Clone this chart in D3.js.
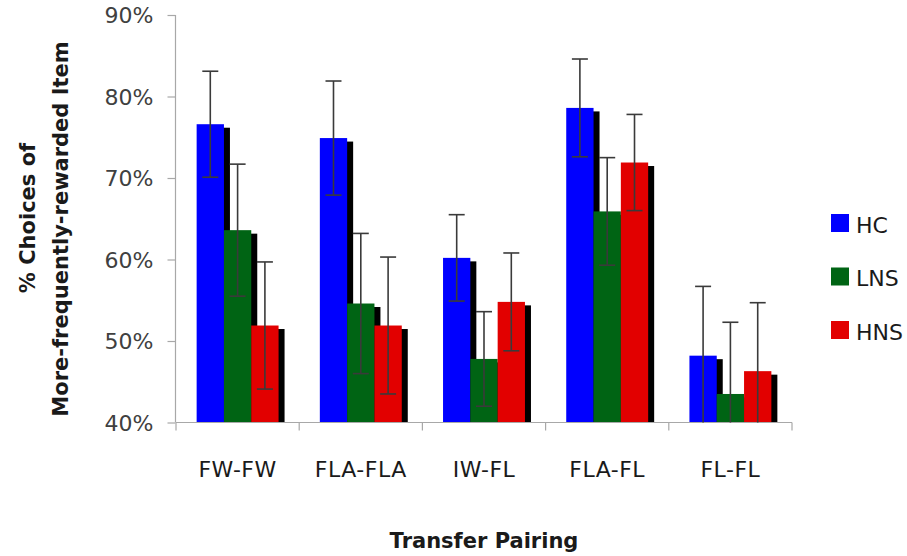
<!DOCTYPE html>
<html>
<head>
<meta charset="utf-8">
<script src="https://cdn.jsdelivr.net/npm/d3@7"></script>
<style>
  html, body { margin: 0; padding: 0; background: #fff; }
  svg { display: block; }
  text { font-family: "DejaVu Sans", Verdana, sans-serif; }
</style>
</head>
<body>
<svg id="chart" width="907" height="556"></svg>
<script>
// ---- data ----
const categories = ["FW-FW", "FLA-FLA", "IW-FL", "FLA-FL", "FL-FL"];
const seriesNames = ["HC", "LNS", "HNS"];
const seriesColors = ["#0000ff", "#006414", "#e20000"];
const hcValues  = [76.6, 74.9, 60.2, 78.6, 48.2];
const hcErrors  = [6.5, 7.0, 5.3, 6.0, 8.5];
const lnsValues = [63.6, 54.6, 47.8, 65.9, 43.5];
const lnsErrors = [8.1, 8.6, 5.8, 6.6, 8.8];
const hnsValues = [51.9, 51.9, 54.8, 71.9, 46.3];
const hnsErrors = [7.8, 8.4, 6.0, 5.9, 8.4];
const yTicks = [40, 50, 60, 70, 80, 90];
const yTickLabels = ["40%", "50%", "60%", "70%", "80%", "90%"];

const seriesValues = [hcValues, lnsValues, hnsValues];
const seriesErrors = [hcErrors, lnsErrors, hnsErrors];

// ---- layout ----
const svg = d3.select("#chart");
const plotLeft = 176, plotRight = 792, plotTop = 15, plotBottom = 422.5;

const x = d3.scaleBand().domain(categories).range([plotLeft, plotRight]).paddingInner(0).paddingOuter(0);
const groupW = x.bandwidth() * 0.665;
const xs = d3.scaleBand().domain(seriesNames).range([0, groupW]).padding(0);
const groupOffset = (x.bandwidth() - groupW) / 2;
const y = d3.scaleLinear().domain([40, 90]).range([plotBottom, plotTop]);

const axisColor = "#a8a8a8";

// y axis
const yAxis = svg.append("g")
  .attr("transform", `translate(${plotLeft - 0.5},0)`)
  .call(d3.axisLeft(y).tickValues(yTicks).tickFormat((d, i) => yTickLabels[i]).tickSize(8).tickPadding(14));
yAxis.select(".domain").attr("stroke", axisColor).attr("stroke-width", 1.2).attr("d", `M0,${y(90)}V${y(40)}`);
yAxis.selectAll(".tick line").attr("stroke", axisColor).attr("stroke-width", 1.2);
yAxis.selectAll(".tick text").attr("fill", "#404040").style("font-size", "22px")
  .style("font-family", "'DejaVu Sans', sans-serif").attr("dy", "0.36em");

// bars
const data = [];
categories.forEach((c, ci) => {
  seriesNames.forEach((s, si) => {
    data.push({ c, s, si, v: seriesValues[si][ci], e: seriesErrors[si][ci] });
  });
});

const bars = svg.append("g");
data.forEach(d => {
  const bx = x(d.c) + groupOffset + xs(d.s);
  const bw = xs.bandwidth();
  // shadow
  bars.append("rect")
    .attr("x", bx + 6).attr("y", y(d.v) + 3.5)
    .attr("width", bw).attr("height", Math.max(0, y(40) - y(d.v) - 3.5))
    .attr("fill", "#000");
  bars.append("rect")
    .attr("x", bx).attr("y", y(d.v))
    .attr("width", bw).attr("height", y(40) - y(d.v))
    .attr("fill", seriesColors[d.si]);
});

// x axis
const xAxis = svg.append("g")
  .attr("transform", `translate(0,${plotBottom})`)
  .call(d3.axisBottom(x).tickSize(0).tickPadding(39));
xAxis.select(".domain").attr("stroke", axisColor).attr("stroke-width", 1.2).attr("d", `M${plotLeft},0H${plotRight}`);
xAxis.selectAll(".tick text").attr("fill", "#1a1a1a").style("font-size", "22px")
  .style("font-family", "'DejaVu Sans', sans-serif").attr("letter-spacing", "0.5px");
const edges = categories.map(c => x(c)).concat([x(categories[categories.length - 1]) + x.bandwidth()]);
xAxis.selectAll("line.edge").data(edges).enter().append("line")
  .attr("class", "edge")
  .attr("x1", d => d).attr("x2", d => d).attr("y1", 0).attr("y2", 8)
  .attr("stroke", axisColor).attr("stroke-width", 1.2);

// error bars
const eb = svg.append("g").attr("stroke", "#3a3a3a").attr("stroke-width", 1.6).attr("fill", "none");
data.forEach(d => {
  const cx = x(d.c) + groupOffset + xs(d.s) + xs.bandwidth() / 2;
  const hi = d.v + d.e, lo = d.v - d.e;
  const yHi = y(hi), yLo = y(Math.max(40, lo));
  eb.append("line").attr("x1", cx).attr("x2", cx).attr("y1", yHi).attr("y2", yLo);
  eb.append("line").attr("x1", cx - 8).attr("x2", cx + 8).attr("y1", yHi).attr("y2", yHi);
  if (lo >= 40) {
    eb.append("line").attr("x1", cx - 8).attr("x2", cx + 8).attr("y1", yLo).attr("y2", yLo);
  }
});

// legend
const legend = svg.append("g");
seriesNames.forEach((s, i) => {
  const ly = 214 + i * 53.5;
  legend.append("rect").attr("x", 831).attr("y", ly).attr("width", 18).attr("height", 18).attr("fill", seriesColors[i]);
  legend.append("text").attr("x", 856).attr("y", ly + 18.5).text(s)
    .attr("fill", "#1a1a1a").style("font-size", "22px");
});

// axis titles
svg.append("text")
  .attr("transform", `translate(35,218) rotate(-90)`)
  .attr("text-anchor", "middle")
  .style("font-size", "21px").style("font-weight", "bold").attr("fill", "#1a1a1a")
  .text("% Choices of");
svg.append("text")
  .attr("transform", `translate(68,229) rotate(-90)`)
  .attr("text-anchor", "middle")
  .style("font-size", "21px").style("font-weight", "bold").attr("fill", "#1a1a1a")
  .text("More-frequently-rewarded Item");
svg.append("text")
  .attr("x", (plotLeft + plotRight) / 2).attr("y", 548)
  .attr("text-anchor", "middle")
  .style("font-size", "21px").style("font-weight", "bold").attr("fill", "#1a1a1a")
  .text("Transfer Pairing");
</script>
</body>
</html>
